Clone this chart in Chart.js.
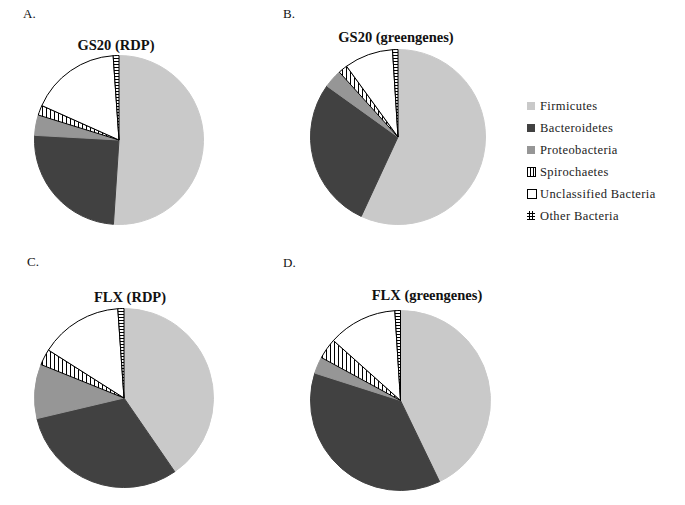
<!DOCTYPE html>
<html>
<head>
<meta charset="utf-8">
<script src="https://cdn.jsdelivr.net/npm/chart.js@4/dist/chart.umd.min.js"></script>
<style>
  body { margin: 0; background: #fff; }
  #page { position: relative; width: 685px; height: 505px; overflow: hidden; font-family: "Liberation Serif", "DejaVu Serif", serif; color: #111; }
  .panel { position: absolute; font-size: 13px; line-height: 13px; }
  .title { position: absolute; width: 220px; text-align: center; font-weight: bold; font-size: 14.5px; line-height: 15px; }
  .pie { position: absolute; }
  #legend { position: absolute; left: 527px; top: 99px; font-size: 12.5px; color: #222; }
  #legend .row { position: relative; height: 22px; line-height: 14px; white-space: nowrap; letter-spacing: 0.4px; }
  #legend .sw { position: absolute; left: 0; top: 3px; width: 8px; height: 8px; }
  #legend .txt { position: absolute; left: 13px; top: 0; }
</style>
</head>
<body>
<div id="page">
  <div class="panel" style="left:23px; top:7px;">A.</div>
  <div class="panel" style="left:283px; top:7px;">B.</div>
  <div class="panel" style="left:27px; top:255px;">C.</div>
  <div class="panel" style="left:283px; top:256px;">D.</div>

  <div class="title" style="left:6px; top:38px;">GS20 (RDP)</div>
  <div class="title" style="left:286px; top:30px;">GS20 (greengenes)</div>
  <div class="title" style="left:20px; top:290px;">FLX (RDP)</div>
  <div class="title" style="left:317px; top:288px;">FLX (greengenes)</div>

  <div class="pie" id="boxA"><canvas id="pieA"></canvas></div>
  <div class="pie" id="boxB"><canvas id="pieB"></canvas></div>
  <div class="pie" id="boxC"><canvas id="pieC"></canvas></div>
  <div class="pie" id="boxD"><canvas id="pieD"></canvas></div>

  <div id="legend"></div>
</div>

<script>
// ---------- DATA (% of reads) ----------
const labels = ['Firmicutes', 'Bacteroidetes', 'Proteobacteria', 'Spirochaetes', 'Unclassified Bacteria', 'Other Bacteria'];
const gs20Rdp        = [51.0, 24.8, 3.9, 1.9, 17.2, 1.1];
const gs20Greengenes = [56.9, 28.0, 3.4, 1.7, 9.0, 1.0];
const flxRdp         = [40.4, 30.9, 9.8, 2.9, 14.9, 1.1];
const flxGreengenes  = [42.9, 37.1, 3.0, 3.7, 12.4, 1.0];

// ---------- FILL PATTERNS ----------
function makePattern(w, h, draw) {
    const c = document.createElement('canvas');
    c.width = w;
    c.height = h;
    const g = c.getContext('2d');
    g.fillStyle = '#fff';
    g.fillRect(0, 0, w, h);
    g.strokeStyle = '#000';
    g.lineWidth = 1;
    draw(g);
    return g.createPattern(c, 'repeat');
}

// vertical stripes for Spirochaetes
const stripes = makePattern(4, 4, g => {
    g.beginPath();
    g.moveTo(0.5, 0);
    g.lineTo(0.5, 4);
    g.stroke();
});
// small horizontal ticks for Other Bacteria
const ticks = makePattern(3, 3, g => {
    g.beginPath();
    g.moveTo(0, 0.5);
    g.lineTo(3, 0.5);
    g.stroke();
});

const fills   = ['#c9c9c9', '#414141', '#969696', stripes, '#ffffff', ticks];
const borders = ['#c9c9c9', '#414141', '#969696', '#000000', '#000000', '#000000'];

// ---------- PIES ----------
function drawPie(id, values, cx, cy, r) {
    const size = Math.round(2 * r + 1);
    const box = document.getElementById('box' + id);
    box.style.left = (cx - size / 2) + 'px';
    box.style.top = (cy - size / 2) + 'px';
    box.style.width = size + 'px';
    box.style.height = size + 'px';

    new Chart(document.getElementById('pie' + id), {
        type: 'pie',
        data: {
            labels: labels,
            datasets: [{
                data: values,
                backgroundColor: fills,
                borderColor: borders,
                borderWidth: 1
            }]
        },
        options: {
            responsive: true,
            maintainAspectRatio: false,
            animation: false,
            layout: { padding: 0 },
            plugins: {
                legend: { display: false },
                tooltip: { enabled: false }
            }
        }
    });
}

drawPie('A', gs20Rdp, 118.5, 140, 84.5);
drawPie('B', gs20Greengenes, 397.5, 137, 87.5);
drawPie('C', flxRdp, 124, 398, 89.5);
drawPie('D', flxGreengenes, 400.5, 400.5, 90);

// ---------- LEGEND ----------
const swatchCss = [
    'background:#c9c9c9;',
    'background:#414141;',
    'background:#969696;',
    'border:1px solid #000; width:7px; height:8px; top:2px; background:repeating-linear-gradient(90deg,#fff 0 2px,#000 2px 3px);',
    'border:1px solid #000; width:8px; height:8px; top:2px; background:#fff;',
    'width:8px; height:9px; top:2px; background:repeating-linear-gradient(180deg,transparent 0 2px,#000 2px 3px), repeating-linear-gradient(90deg,transparent 0 2px,#000 2px 3px,transparent 3px 5px,#000 5px 6px,transparent 6px 8px);'
];
const legendEl = document.getElementById('legend');
labels.forEach((name, i) => {
    const row = document.createElement('div');
    row.className = 'row';
    row.innerHTML = `<span class="sw" style="${swatchCss[i]}"></span><span class="txt">${name}</span>`;
    legendEl.appendChild(row);
});
</script>
</body>
</html>
